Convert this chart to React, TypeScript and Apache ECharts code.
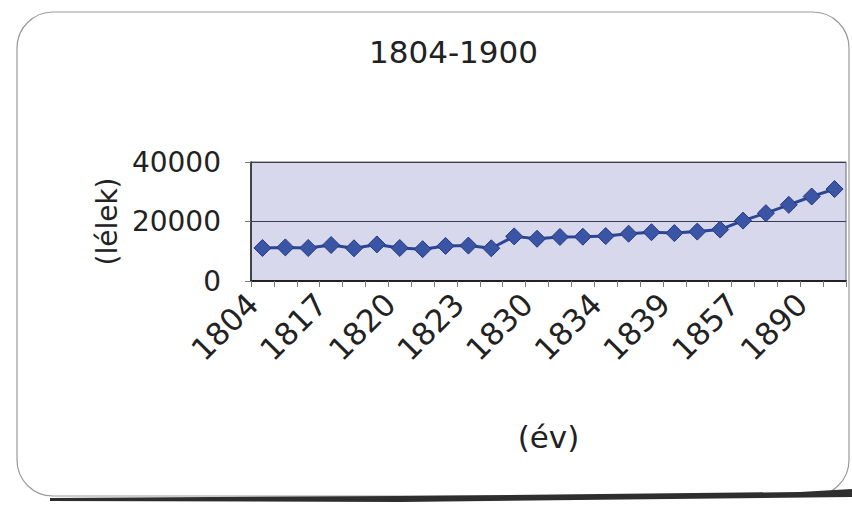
import React, { useEffect, useRef } from "react";
import * as echarts from "echarts";

const titleText = "1804-1900";
const yAxisName = "(lélek)";
const xAxisName = "(év)";
const years = [
  "1804", "1810", "1815", "1817", "1818", "1819", "1820", "1821", "1822",
  "1823", "1825", "1828", "1830", "1831", "1832", "1834", "1835", "1837",
  "1839", "1840", "1850", "1857", "1869", "1880", "1890", "1900",
];
const population = [
  11100, 11300, 11100, 12100, 11000, 12300, 11100, 10700, 11800, 11900,
  11000, 15000, 14200, 14800, 14900, 15100, 15900, 16400, 16100, 16600,
  17300, 20300, 22800, 25600, 28400, 30900,
];
const yTicks = [0, 20000, 40000];

const FONT = "DejaVu Sans";

export default function App() {
  const ref = useRef<HTMLDivElement>(null);
  useEffect(() => {
    if (!ref.current) return;
    const chart = echarts.init(ref.current, undefined, { renderer: "svg" });
    chart.setOption({
      animation: false,
      backgroundColor: "#ffffff",
      textStyle: { fontFamily: FONT },
      title: {
        text: titleText,
        left: 364,
        top: 31,
        textStyle: { fontFamily: FONT, fontSize: 31, fontWeight: "normal", color: "#222" },
      },
      graphic: [
        {
          type: "rect",
          shape: { x: 17, y: 12, width: 832, height: 484, r: 36 },
          style: { fill: "none", stroke: "#9a9a9a", lineWidth: 1.2 },
          silent: true,
          z: -1,
        },
        {
          type: "polygon",
          shape: {
            points: [[50, 498], [400, 496], [800, 492], [852, 489], [852, 497], [400, 502], [50, 501]],
          },
          style: { fill: "#2e2e2e" },
          silent: true,
        },
      ],
      grid: {
        left: 251,
        right: 6,
        top: 162,
        bottom: 232,
        show: true,
        backgroundColor: "#d8d8ec",
        borderColor: "#6a6a80",
        borderWidth: 1,
      },
      xAxis: {
        type: "category",
        data: years,
        boundaryGap: true,
        name: xAxisName,
        nameLocation: "middle",
        nameGap: 140,
        nameTextStyle: { fontFamily: FONT, fontSize: 31, color: "#222" },
        axisLine: { show: true, lineStyle: { color: "#222", width: 2 } },
        axisTick: { show: true, interval: 0, length: 6, lineStyle: { color: "#777" } },
        axisLabel: {
          interval: 2,
          rotate: 45,
          margin: 8,
          padding: [0, 14, 0, 0],
          fontFamily: FONT,
          fontSize: 31,
          color: "#222",
        },
        splitLine: { show: false },
      },
      yAxis: {
        type: "value",
        min: 0,
        max: 40000,
        interval: 20000,
        name: yAxisName,
        nameLocation: "middle",
        nameRotate: 90,
        nameGap: 86,
        nameTextStyle: { fontFamily: FONT, fontSize: 28, color: "#222" },
        axisLine: { show: true, lineStyle: { color: "#222", width: 1.5 } },
        axisTick: { show: true, length: 6, lineStyle: { color: "#777" } },
        axisLabel: {
          margin: 30,
          fontFamily: FONT,
          fontSize: 28,
          color: "#222",
          formatter: (v: number) => (yTicks.includes(v) ? String(v) : ""),
        },
        splitLine: { show: true, lineStyle: { color: "#3a3a50", width: 1.2 } },
      },
      series: [
        {
          type: "line",
          data: population,
          symbol: "diamond",
          symbolSize: 17,
          showAllSymbol: true,
          lineStyle: { color: "#2c4596", width: 3 },
          itemStyle: { color: "#3a55a6", borderColor: "#26397a", borderWidth: 1 },
        },
      ],
    });
    return () => chart.dispose();
  }, []);
  return (
    <div
      ref={ref}
      style={{ position: "fixed", left: 0, top: 0, width: 852, height: 513 }}
    />
  );
}
